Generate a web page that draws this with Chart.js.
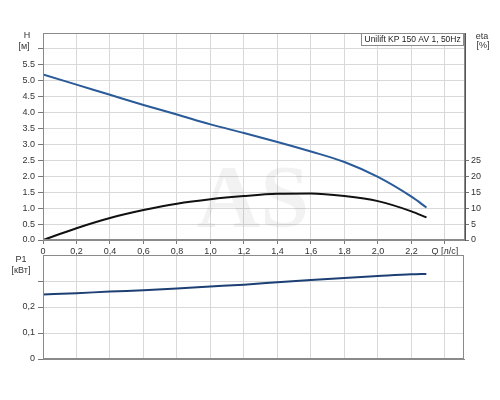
<!DOCTYPE html>
<html><head><meta charset="utf-8">
<script src="https://cdn.jsdelivr.net/npm/chart.js@4"></script>
<style>
html,body{margin:0;padding:0;background:#fff;width:500px;height:400px;overflow:hidden}
canvas{position:absolute;left:0;top:0}
</style></head><body>
<canvas id="c1" width="500" height="400"></canvas>
<canvas id="c2" width="500" height="400"></canvas>
<script>
// ---- data ----
const qValues     = [0, 0.2, 0.4, 0.6, 0.8, 1.0, 1.2, 1.4, 1.6, 1.8, 2.0, 2.2, 2.29];
const headValues  = [5.2, 4.88, 4.56, 4.24, 3.94, 3.63, 3.36, 3.08, 2.78, 2.45, 1.98, 1.36, 1.02];
const etaValues   = [0, 3.7, 6.9, 9.4, 11.4, 12.8, 13.8, 14.5, 14.6, 13.8, 12.2, 9.0, 7.1];
const powerValues = [0.248, 0.253, 0.2595, 0.2645, 0.271, 0.2786, 0.286, 0.295, 0.304, 0.312, 0.319, 0.3256, 0.327];
const qTicks      = [0, 0.2, 0.4, 0.6, 0.8, 1.0, 1.2, 1.4, 1.6, 1.8, 2.0, 2.2, 2.4];
const qTickLabels = ['0', '0,2', '0,4', '0,6', '0,8', '1,0', '1,2', '1,4', '1,6', '1,8', '2,0', '2,2', 'Q [л/с]'];
const hTicks      = [0, 0.5, 1, 1.5, 2, 2.5, 3, 3.5, 4, 4.5, 5, 5.5, 6];
const hTickLabels = ['0.0', '0.5', '1.0', '1.5', '2.0', '2.5', '3.0', '3.5', '4.0', '4.5', '5.0', '5.5', ''];
const etaTicks    = [0, 5, 10, 15, 20, 25];
const etaTickLabels = ['0', '5', '10', '15', '20', '25'];
const pTicks      = [0, 0.1, 0.2, 0.3];
const pTickLabels = ['0', '0,1', '0,2', ''];
const legendText  = 'Unilift KP 150 AV 1, 50Hz';
const hAxisLabel  = ['H', '[м]'];
const etaAxisLabel= ['eta', '[%]'];
const pAxisLabel  = ['P1', '[кВт]'];
const watermark   = 'AS';

const FONT = 'Liberation Sans, Arial, sans-serif';
Chart.defaults.font.family = FONT;
Chart.defaults.font.size = 9;
Chart.defaults.color = '#333';
Chart.defaults.animation = false;

const pts = (ys) => qValues.map((q, i) => ({x: q, y: ys[i]}));
const fixTicks = (vals, labels) => ({
  afterBuildTicks: s => { s.ticks = vals.map(v => ({value: v})); },
  labelFor: (v) => { const i = vals.findIndex(t => Math.abs(t - v) < 1e-6); return i < 0 ? '' : labels[i]; }
});
const GRID = '#d9d9d9';
const TICK = '#777';

const boxPlugin = {
  id: 'box',
  afterDraw(chart) {
    const {ctx, chartArea: a} = chart;
    ctx.save();
    ctx.strokeStyle = '#8a8a8a';
    ctx.lineWidth = 1;
    ctx.strokeRect(Math.round(a.left) + 0.5, Math.round(a.top) + 0.5,
                   Math.round(a.right - a.left) - 1, Math.round(a.bottom - a.top) - 1);
    ctx.restore();
  }
};

const topDecor = {
  id: 'topDecor',
  beforeDatasetsDraw(chart) {
    const {ctx} = chart;
    ctx.save();
    ctx.font = 'bold 88px "Liberation Serif", serif';
    ctx.fillStyle = 'rgba(0,0,0,0.05)';
    ctx.textAlign = 'center';
    ctx.textBaseline = 'middle';
    ctx.fillText(watermark, 253, 203);
    ctx.restore();
  },
  afterDraw(chart) {
    const {ctx, chartArea: a} = chart;
    ctx.save();
    ctx.font = '9px ' + FONT;
    ctx.fillStyle = '#333';
    ctx.textAlign = 'center';
    ctx.textBaseline = 'middle';
    ctx.fillText(hAxisLabel[0], 27, 36);
    ctx.fillText(hAxisLabel[1], 24, 47);
    ctx.fillText(etaAxisLabel[0], 482, 37);
    ctx.fillText(etaAxisLabel[1], 483, 46);
    ctx.font = '8.5px ' + FONT;
    const w = ctx.measureText(legendText).width + 6;
    const x0 = Math.round(a.right - w - 2), y0 = a.top;
    ctx.fillStyle = '#fff';
    ctx.fillRect(x0, y0, w, 13);
    ctx.strokeStyle = '#8a8a8a';
    ctx.strokeRect(x0 + 0.5, y0 + 0.5, Math.round(w), 12);
    ctx.fillStyle = '#222';
    ctx.textAlign = 'left';
    ctx.fillText(legendText, x0 + 3.5, y0 + 7);
    ctx.restore();
  }
};

const bottomDecor = {
  id: 'bottomDecor',
  afterDraw(chart) {
    const {ctx} = chart;
    ctx.save();
    ctx.font = '9px ' + FONT;
    ctx.fillStyle = '#333';
    ctx.textAlign = 'center';
    ctx.textBaseline = 'middle';
    ctx.fillText(pAxisLabel[0], 21, 260);
    ctx.fillText(pAxisLabel[1], 21, 271);
    ctx.restore();
  }
};

const qT = fixTicks(qTicks, qTickLabels);
const hT = fixTicks(hTicks, hTickLabels);
const eT = fixTicks(etaTicks, etaTickLabels);
const pT = fixTicks(pTicks, pTickLabels);

new Chart(document.getElementById('c1'), {
  type: 'line',
  data: {
    datasets: [
      {data: pts(headValues), yAxisID: 'y', borderColor: '#2a5b98', borderWidth: 2,
       pointRadius: 0, cubicInterpolationMode: 'monotone', fill: false},
      {data: pts(etaValues), yAxisID: 'y1', borderColor: '#111', borderWidth: 2,
       pointRadius: 0, cubicInterpolationMode: 'monotone', fill: false}
    ]
  },
  options: {
    responsive: false,
    layout: {padding: {top: 33, left: 0, right: 0, bottom: 0}},
    plugins: {legend: {display: false}, tooltip: {enabled: false}},
    scales: {
      x: {
        type: 'linear', min: 0, max: 2.52,
        afterBuildTicks: qT.afterBuildTicks,
        ticks: {autoSkip: false, maxRotation: 0, padding: 2, callback: v => qT.labelFor(v)},
        grid: {color: GRID, tickColor: TICK, tickLength: 4},
        border: {color: '#8a8a8a'},
        afterFit: s => { s.height = 160; }
      },
      y: {
        position: 'left', min: 0, max: 6.5,
        afterBuildTicks: hT.afterBuildTicks,
        ticks: {autoSkip: false, padding: 3, callback: v => hT.labelFor(v)},
        grid: {color: GRID, tickColor: TICK, tickLength: 5},
        border: {color: '#8a8a8a'},
        afterFit: s => { s.width = 43; }
      },
      y1: {
        position: 'right', min: 0, max: 65,
        afterBuildTicks: eT.afterBuildTicks,
        ticks: {autoSkip: false, padding: 2, callback: v => eT.labelFor(v)},
        grid: {drawOnChartArea: false, tickColor: TICK, tickLength: 4},
        border: {color: '#555'},
        afterFit: s => { s.width = 35; }
      }
    }
  },
  plugins: [boxPlugin, topDecor]
});

new Chart(document.getElementById('c2'), {
  type: 'line',
  data: {
    datasets: [
      {data: pts(powerValues), borderColor: '#1d3f73', borderWidth: 2,
       pointRadius: 0, cubicInterpolationMode: 'monotone', fill: false}
    ]
  },
  options: {
    responsive: false,
    layout: {padding: {top: 255, left: 0, right: 36, bottom: 0}},
    plugins: {legend: {display: false}, tooltip: {enabled: false}},
    scales: {
      x: {
        type: 'linear', min: 0, max: 2.515,
        afterBuildTicks: qT.afterBuildTicks,
        ticks: {display: false},
        grid: {color: GRID, tickLength: 0},
        border: {color: '#8a8a8a'},
        afterFit: s => { s.height = 41; }
      },
      y: {
        position: 'left', min: 0, max: 0.4,
        afterBuildTicks: pT.afterBuildTicks,
        ticks: {autoSkip: false, padding: 3, callback: v => pT.labelFor(v)},
        grid: {color: GRID, tickColor: TICK, tickLength: 5},
        border: {color: '#8a8a8a'},
        afterFit: s => { s.width = 43; }
      }
    }
  },
  plugins: [boxPlugin, bottomDecor]
});
</script>
</body></html>
